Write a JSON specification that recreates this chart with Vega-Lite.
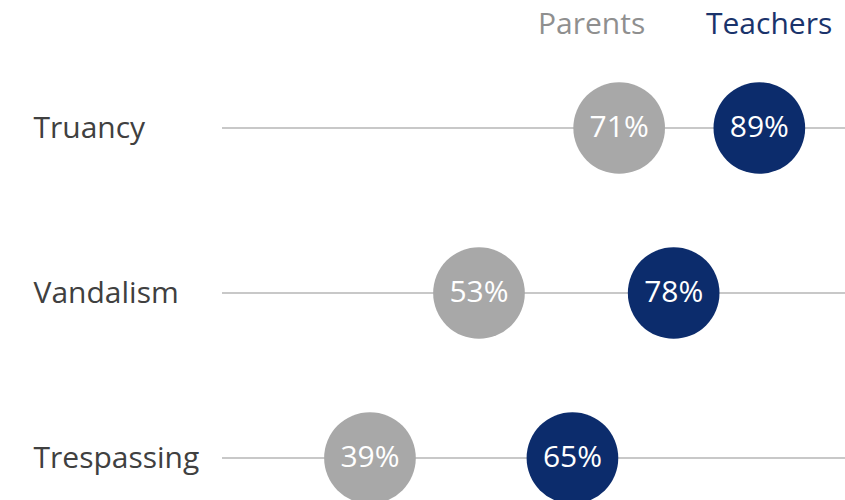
{
  "$schema": "https://vega.github.io/schema/vega-lite/v6.json",
  "autosize": {"type": "none"},
  "width": 623,
  "height": 330,
  "padding": {"left": 222, "top": 128, "right": 0, "bottom": 42},
  "background": "white",
  "config": {"view": {"stroke": null}, "font": "Open Sans"},
  "data": {
    "values": [
      {"behavior": "Truancy", "group": "Parents", "value": 0.71},
      {"behavior": "Truancy", "group": "Teachers", "value": 0.89},
      {"behavior": "Vandalism", "group": "Parents", "value": 0.53},
      {"behavior": "Vandalism", "group": "Teachers", "value": 0.78},
      {"behavior": "Trespassing", "group": "Parents", "value": 0.39},
      {"behavior": "Trespassing", "group": "Teachers", "value": 0.65}
    ]
  },
  "encoding": {
    "y": {
      "field": "behavior",
      "type": "nominal",
      "sort": null,
      "scale": {"type": "point", "padding": 0},
      "axis": {
        "title": null,
        "domain": false,
        "ticks": false,
        "labelAlign": "left",
        "labelPadding": 189,
        "labelFontSize": 30,
        "labelColor": "#404040",
        "labelFont": "Open Sans"
      }
    }
  },
  "layer": [
    {
      "mark": {"type": "rule", "color": "#c4c4c4", "strokeWidth": 1.5},
      "encoding": {}
    },
    {
      "mark": {"type": "point", "filled": true, "opacity": 1, "size": 8400},
      "encoding": {
        "x": {
          "field": "value",
          "type": "quantitative",
          "scale": {"domain": [0.2, 1.0]},
          "axis": null
        },
        "color": {
          "field": "group",
          "type": "nominal",
          "scale": {"domain": ["Parents", "Teachers"], "range": ["#a8a8a8", "#0c2c6c"]},
          "legend": {
            "title": null,
            "orient": "none",
            "direction": "horizontal",
            "legendX": 286,
            "legendY": -118,
            "symbolSize": 0,
            "symbolOpacity": 0,
            "symbolStrokeWidth": 0,
            "labelOffset": 0,
            "columnPadding": 30,
            "labelFontSize": 30,
            "labelFont": "Open Sans",
            "labelLimit": 300,
            "encode": {
              "labels": {
                "update": {
                  "fill": {"signal": "datum.value === 'Parents' ? '#8f8f8f' : '#1a336b'"}
                }
              }
            }
          }
        }
      }
    },
    {
      "mark": {"type": "text", "color": "white", "fontSize": 30, "align": "center", "baseline": "middle", "font": "Open Sans"},
      "encoding": {
        "x": {"field": "value", "type": "quantitative", "scale": {"domain": [0.2, 1.0]}},
        "text": {"field": "value", "type": "quantitative", "format": ".0%"}
      }
    }
  ]
}
